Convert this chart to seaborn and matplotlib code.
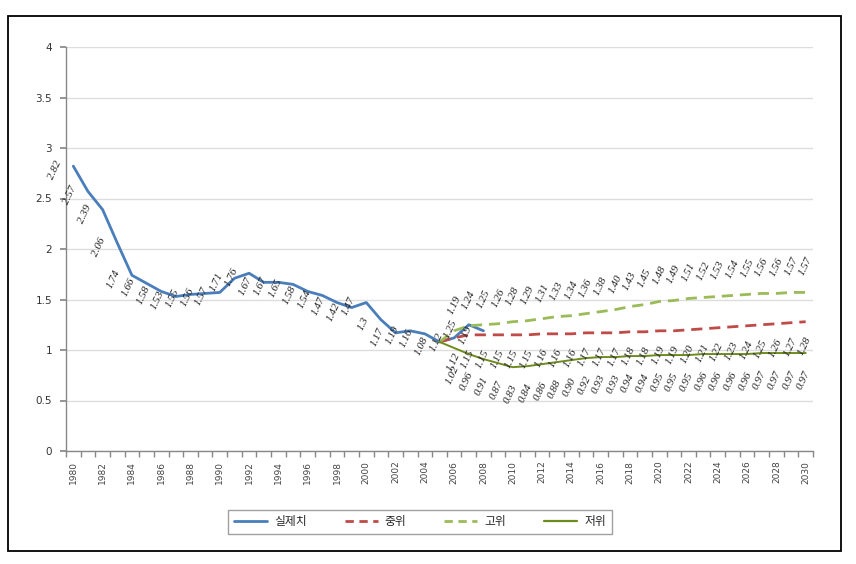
import numpy as np
import pandas as pd
import seaborn as sns
import matplotlib
matplotlib.use("Agg")
import matplotlib.pyplot as plt
from matplotlib.patches import Rectangle
from matplotlib.lines import Line2D

# ---- data ----
years_actual = list(range(1980, 2009))
actual = [2.82, 2.57, 2.39, 2.06, 1.74, 1.66, 1.58, 1.53, 1.55, 1.56,
          1.57, 1.71, 1.76, 1.67, 1.67, 1.65, 1.58, 1.54, 1.47, 1.42,
          1.47, 1.30, 1.17, 1.19, 1.16, 1.08, 1.12, 1.25, 1.19]

years_proj = list(range(2005, 2031))
medium = [1.08, 1.12, 1.15, 1.15, 1.15, 1.15, 1.15, 1.16, 1.16, 1.16,
          1.17, 1.17, 1.17, 1.18, 1.18, 1.19, 1.19, 1.20, 1.21, 1.22,
          1.23, 1.24, 1.25, 1.26, 1.27, 1.28]
high = [1.08, 1.19, 1.24, 1.25, 1.26, 1.28, 1.29, 1.31, 1.33, 1.34,
        1.36, 1.38, 1.40, 1.43, 1.45, 1.48, 1.49, 1.51, 1.52, 1.53,
        1.54, 1.55, 1.56, 1.56, 1.57, 1.57]
low = [1.08, 1.02, 0.96, 0.91, 0.87, 0.83, 0.84, 0.86, 0.88, 0.90,
       0.92, 0.93, 0.93, 0.94, 0.94, 0.95, 0.95, 0.95, 0.96, 0.96,
       0.96, 0.96, 0.97, 0.97, 0.97, 0.97]

series_names = ["실제치", "중위", "고위", "저위"]
y_ticks = [0, 0.5, 1, 1.5, 2, 2.5, 3, 3.5, 4]
x_tick_years = list(range(1980, 2031, 2))

# ---- style ----
sns.set_theme(style="white")
plt.rcParams["font.family"] = ["DejaVu Sans", "Noto Sans CJK KR"]

colors = {"실제치": "#4A7EBB", "중위": "#BE4B48", "고위": "#9BBB59", "저위": "#6E8B1E"}

fig = plt.figure(figsize=(8.56, 5.64), dpi=100)
ax = fig.add_axes([66 / 856, (564 - 451) / 564, (813 - 66) / 856, (451 - 47) / 564])

df_a = pd.DataFrame({"year": years_actual, "v": actual})
df_m = pd.DataFrame({"year": years_proj, "v": medium})
df_h = pd.DataFrame({"year": years_proj, "v": high})
df_l = pd.DataFrame({"year": years_proj, "v": low})

sns.lineplot(data=df_a, x="year", y="v", ax=ax, color=colors["실제치"], lw=2.0)
sns.lineplot(data=df_m, x="year", y="v", ax=ax, color=colors["중위"], lw=2.0, linestyle=(0, (4, 2.5)))
sns.lineplot(data=df_h, x="year", y="v", ax=ax, color=colors["고위"], lw=2.0, linestyle=(0, (4, 2.5)))
sns.lineplot(data=df_l, x="year", y="v", ax=ax, color=colors["저위"], lw=1.4)

lab_font = dict(family="Liberation Serif", fontsize=8, color="#222222", style="italic")

def fmt_general(v):
    return f"{v:.2f}".rstrip("0").rstrip(".")

for x, v in zip(years_actual, actual):
    ax.annotate(fmt_general(v), (x, v), xytext=(-18, -4), textcoords="offset pixels",
                rotation=65, ha="center", va="center", **lab_font)
for x, v in zip(years_proj[1:], high[1:]):
    ax.annotate(f"{v:.2f}", (x, v), xytext=(0, 26), textcoords="offset pixels",
                rotation=65, ha="center", va="center", **lab_font)
for x, v in zip(years_proj[1:], medium[1:]):
    ax.annotate(f"{v:.2f}", (x, v), xytext=(-1, -24), textcoords="offset pixels",
                rotation=65, ha="center", va="center", **lab_font)
for x, v in zip(years_proj[1:], low[1:]):
    ax.annotate(f"{v:.2f}", (x, v), xytext=(-2, -27), textcoords="offset pixels",
                rotation=65, ha="center", va="center", **lab_font)

# ---- axes ----
ax.set_xlim(1979.5, 2030.5)
ax.set_ylim(0, 4)
ax.set_xlabel("")
ax.set_ylabel("")
ax.set_yticks(y_ticks)
ax.set_yticklabels([f"{t:g}" for t in y_ticks], fontsize=7.5, color="#333333")
ax.set_xticks(x_tick_years)
ax.set_xticklabels([str(y) for y in x_tick_years], rotation=90, fontsize=6.5, color="#444444")
ax.set_xticks(np.arange(1979.5, 2031, 1.0), minor=True)
ax.tick_params(axis="x", which="major", length=0, pad=7)
ax.tick_params(axis="x", which="minor", length=4, color="#888888", bottom=True)
ax.tick_params(axis="y", which="major", length=4, color="#888888", left=True, pad=6)
ax.grid(axis="y", color="#DDDDDD", lw=1)
ax.set_axisbelow(True)
for s in ["top", "right"]:
    ax.spines[s].set_visible(False)
for s in ["left", "bottom"]:
    ax.spines[s].set_color("#888888")
    ax.spines[s].set_linewidth(1)

# ---- legend ----
handles = [
    Line2D([], [], color=colors["실제치"], lw=2),
    Line2D([], [], color=colors["중위"], lw=2, linestyle=(0, (3, 2))),
    Line2D([], [], color=colors["고위"], lw=2, linestyle=(0, (3, 2))),
    Line2D([], [], color=colors["저위"], lw=1.6),
]
leg = fig.legend(handles, series_names, loc="center", ncol=4,
                 bbox_to_anchor=(420 / 856, (564 - 522) / 564),
                 frameon=True, fancybox=False, edgecolor="#888888",
                 prop={"family": ["Noto Sans CJK KR"], "size": 8.5},
                 handlelength=2.8, columnspacing=3.2, borderpad=0.5, handletextpad=0.6,
                 borderaxespad=0)
leg.get_frame().set_linewidth(1)

# ---- outer border ----
fig.patches.append(Rectangle((8 / 856, (564 - 551) / 564), (841 - 8) / 856, (551 - 16) / 564,
                             transform=fig.transFigure, fill=False, edgecolor="black", lw=1.3))

fig.savefig("out.png", dpi=100)
